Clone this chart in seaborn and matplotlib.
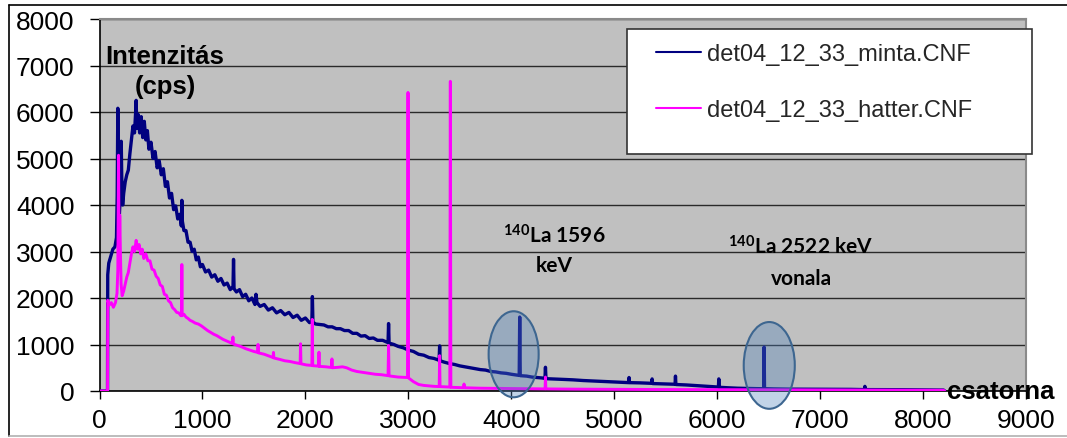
"""
Gamma spectrum: sample (minta) vs background (hatter), channel vs intensity.
"""

import numpy as np
import pandas as pd
import matplotlib.pyplot as plt
import seaborn as sns
from matplotlib.patches import Ellipse, Rectangle
from matplotlib.lines import Line2D

sns.set_theme(style="ticks")
plt.rcParams["font.family"] = ["Liberation Sans", "DejaVu Sans"]
plt.rcParams["mathtext.fontset"] = "custom"
plt.rcParams["mathtext.rm"] = "Lato:bold"
plt.rcParams["mathtext.it"] = "Lato:bold"
plt.rcParams["mathtext.bf"] = "Lato:bold"

# --- data (channel, cps) ---
minta_ch = [0, 70, 78, 80, 90, 110, 130, 150, 165, 172, 178, 184, 192, 200, 206, 211, 216, 225,
            235, 250, 265, 280, 295, 310, 325, 340, 350, 356, 362, 375, 390, 405, 420, 435, 450,
            465, 480, 500, 520, 540, 560, 580, 600, 620, 640, 660, 680, 700, 720, 740, 760, 780,
            795, 800, 805, 820, 840, 860, 880, 900, 920, 940, 960, 980, 1000, 1030, 1060, 1090,
            1120, 1150, 1180, 1210, 1240, 1270, 1297, 1302, 1307, 1330, 1360, 1390, 1420, 1450,
            1480, 1510, 1520, 1530, 1560, 1600, 1640, 1680, 1720, 1760, 1800, 1840, 1880, 1920,
            1960, 2000, 2040, 2063, 2068, 2073, 2100, 2140, 2180, 2220, 2260, 2300, 2340, 2380,
            2420, 2460, 2500, 2540, 2580, 2620, 2660, 2700, 2750, 2803, 2808, 2813, 2860, 2900,
            2950, 3000, 3050, 3100, 3150, 3200, 3250, 3299, 3304, 3309, 3350, 3400, 3450, 3500,
            3550, 3600, 3650, 3700, 3750, 3800, 3850, 3900, 3950, 4000, 4050, 4077, 4082, 4087,
            4150, 4200, 4250, 4300, 4327, 4332, 4337, 4400, 4500, 4600, 4700, 4800, 4900, 5000,
            5100, 5140, 5144, 5148, 5250, 5364, 5368, 5372, 5450, 5591, 5595, 5599, 5700, 5800,
            5900, 6012, 6016, 6020, 6100, 6200, 6300, 6400, 6452, 6456, 6460, 6550, 6700, 6900,
            7100, 7300, 7430, 7435, 7440, 7600, 7800, 8000, 8200, 8210]
minta_cps = [0, 0, 0, 2500, 2750, 2900, 3050, 3100, 3300, 4200, 6080, 4300, 3750, 4100, 5000, 5370,
             4600, 4000, 4250, 4500, 4650, 4750, 5100, 5400, 5700, 5550, 5950, 6250, 5650, 5950,
             5550, 5900, 5450, 5800, 5400, 5600, 5200, 5350, 5000, 5150, 4800, 4950, 4650, 4780,
             4400, 4500, 4150, 4250, 3900, 3980, 3700, 3800, 3550, 4100, 3650, 3450, 3450, 3200,
             3200, 3000, 3050, 2820, 2880, 2670, 2720, 2560, 2600, 2450, 2500, 2360, 2420, 2280,
             2320, 2180, 2250, 2830, 2200, 2130, 2180, 2030, 2080, 1940, 2000, 1860, 2080, 1900,
             1820, 1860, 1740, 1790, 1680, 1730, 1640, 1690, 1580, 1630, 1520, 1570, 1470, 1500,
             2030, 1480, 1440, 1430, 1420, 1380, 1380, 1340, 1340, 1300, 1300, 1240, 1240, 1180,
             1190, 1130, 1140, 1090, 1090, 1040, 1450, 1030, 1000, 960, 930, 880, 850, 790, 770,
             720, 700, 660, 970, 650, 620, 590, 570, 540, 520, 500, 480, 460, 450, 420, 410, 390,
             380, 360, 345, 335, 1590, 330, 320, 300, 290, 280, 270, 510, 265, 260, 250, 240, 225,
             215, 205, 195, 185, 180, 290, 180, 175, 165, 260, 160, 155, 145, 320, 140, 130, 115,
             100, 85, 260, 80, 70, 60, 55, 50, 50, 945, 50, 45, 40, 38, 35, 35, 30, 100, 30, 30,
             28, 25, 20, 0]

hatter_ch = [0, 72, 78, 80, 95, 115, 135, 155, 170, 178, 185, 191, 197, 203, 210, 220, 235, 250,
             265, 280, 295, 310, 325, 340, 356, 370, 385, 400, 415, 430, 450, 470, 490, 510, 530,
             550, 570, 590, 610, 630, 650, 670, 690, 710, 730, 750, 770, 790, 797, 800, 803, 820,
             840, 860, 880, 900, 930, 960, 990, 1020, 1050, 1080, 1110, 1140, 1170, 1200, 1230,
             1260, 1292, 1296, 1300, 1340, 1380, 1420, 1460, 1500, 1536, 1540, 1544, 1600, 1650,
             1686, 1690, 1694, 1750, 1800, 1850, 1900, 1949, 1953, 1957, 2010, 2063, 2067, 2071,
             2100, 2128, 2132, 2136, 2200, 2254, 2258, 2262, 2320, 2360, 2400, 2450, 2500, 2560,
             2620, 2680, 2740, 2803, 2808, 2813, 2900, 2992, 2997, 3002, 3050, 3100, 3150, 3200,
             3250, 3300, 3304, 3308, 3350, 3403, 3408, 3413, 3470, 3537, 3541, 3545, 3700, 3900,
             4100, 4328, 4332, 4336, 4600, 5000, 5400, 5800, 6200, 6600, 7000, 7400, 7800, 8200,
             8210]
hatter_cps = [0, 0, 0, 1950, 1850, 1900, 1800, 1900, 2100, 2600, 5070, 2700, 3780, 3000, 2300,
              2050, 2150, 2300, 2450, 2550, 2750, 2950, 3100, 3000, 3240, 3050, 3150, 2950, 3050,
              2850, 2950, 2800, 2800, 2620, 2600, 2470, 2420, 2280, 2250, 2080, 2060, 1940, 1900,
              1790, 1750, 1690, 1680, 1620, 1620, 2720, 1620, 1650, 1590, 1560, 1520, 1500, 1460,
              1440, 1400, 1350, 1300, 1260, 1220, 1190, 1150, 1110, 1080, 1050, 1020, 1160, 1010,
              980, 950, 910, 880, 850, 830, 1000, 820, 790, 750, 720, 830, 710, 680, 650, 635, 610,
              590, 1015, 585, 560, 550, 1540, 545, 540, 535, 835, 530, 520, 505, 690, 500, 510, 520,
              500, 450, 420, 400, 380, 360, 350, 330, 980, 325, 300, 290, 6420, 280, 200, 140, 120,
              110, 100, 95, 760, 95, 90, 85, 6660, 80, 75, 70, 150, 70, 60, 55, 50, 45, 300, 45, 40,
              35, 32, 30, 28, 25, 22, 20, 18, 15, 0]

series_names = ["det04_12_33_minta.CNF", "det04_12_33_hatter.CNF"]
series_colors = ["#000080", "#ff00ff"]

minta = pd.DataFrame({"csatorna": minta_ch, "cps": minta_cps})
hatter = pd.DataFrame({"csatorna": hatter_ch, "cps": hatter_cps})

W, H = 1067, 439
fig = plt.figure(figsize=(W / 100, H / 100), dpi=100)
fig.patch.set_facecolor("white")

# outer chart frame (right edge falls outside the picture)
for xs, ys, c in [((9, W + 5), (6, 6), "black"), ((9, 9), (6, 437), "black"),
                  ((9, W + 5), (437, 437), "#b0b0b0")]:
    fig.lines.append(Line2D([x / W for x in xs], [1 - y / H for y in ys],
                            transform=fig.transFigure, color=c, linewidth=1.2))

ax = fig.add_axes([99.5 / W, 1 - 392 / H, (1026 - 99.5) / W, (392 - 20) / H])
ax.set_facecolor("#c0c0c0")

sns.lineplot(data=minta, x="csatorna", y="cps", ax=ax, color=series_colors[0],
             linewidth=2.4, estimator=None, sort=False, zorder=3)
sns.lineplot(data=hatter, x="csatorna", y="cps", ax=ax, color=series_colors[1],
             linewidth=2.1, estimator=None, sort=False, zorder=4)

ax.set_xlim(0, 9000)
ax.set_ylim(0, 8000)
ax.set_xticks(np.arange(0, 9001, 1000))
ax.set_yticks(np.arange(0, 8001, 1000))
ax.set_xlabel("")
ax.set_ylabel("")
ax.yaxis.grid(True, color="#2a2a2a", linewidth=1.0)
ax.xaxis.grid(False)
ax.set_axisbelow(True)
ax.tick_params(axis="y", labelsize=19, length=7, width=1, pad=11, colors="black")
ax.tick_params(axis="x", labelsize=19, length=6, width=1, pad=6, colors="black")
for side in ["left", "bottom"]:
    ax.spines[side].set_color("black")
    ax.spines[side].set_linewidth(1.2)
for side in ["top", "right"]:
    ax.spines[side].set_color("#8a8a8a")
    ax.spines[side].set_linewidth(1.5)

# highlighted La-140 peaks
for cx, cy, ew, eh in [(4023, 790, 486, 1850), (6506, 550, 496, 1866)]:
    ax.add_patch(Ellipse((cx, cy), ew, eh, facecolor="#4f81bd", alpha=0.35,
                         edgecolor="none", zorder=5, clip_on=False))
    ax.add_patch(Ellipse((cx, cy), ew, eh, facecolor="none", edgecolor="#3d6690",
                         linewidth=1.5, zorder=6, clip_on=False))

# annotations
bold = dict(fontweight="bold", color="black")
ax.text(637, 7050, "Intenzitás", fontsize=18.5, ha="center", va="baseline", **bold)
ax.text(637, 6400, "(cps)", fontsize=18.5, ha="center", va="baseline", **bold)
ax.text(4420, 3190, r"$^{140}$La 1596", fontsize=15, family="Lato", ha="center",
        va="baseline", **bold)
ax.text(4420, 2570, "keV", fontsize=15, family="Lato", ha="center", va="baseline", **bold)
ax.text(6810, 2960, r"$^{140}$La 2522 keV", fontsize=15, family="Lato", ha="center",
        va="baseline", **bold)
ax.text(6815, 2300, "vonala", fontsize=15, family="Lato", ha="center", va="baseline", **bold)
ax.text(8230, -160, "csatorna", fontsize=18.5, ha="left", va="baseline", clip_on=False, **bold)

# legend box
fig.patches.append(Rectangle((627 / W, 1 - 155 / H), (1032 - 627) / W, (155 - 30) / H,
                             transform=fig.transFigure, facecolor="white",
                             edgecolor="#333333", linewidth=1.2, zorder=2))
handles = [Line2D([], [], color=c, linewidth=1.5) for c in series_colors]
fig.legend(handles, series_names, loc="upper left",
           bbox_to_anchor=(656 / W, 1 - 44 / H), bbox_transform=fig.transFigure,
           frameon=False, fontsize=17, handlelength=1.9, handletextpad=0.25,
           labelspacing=1.45, borderpad=0, borderaxespad=0)

fig.savefig("out.png", dpi=100)
plt.close(fig)
